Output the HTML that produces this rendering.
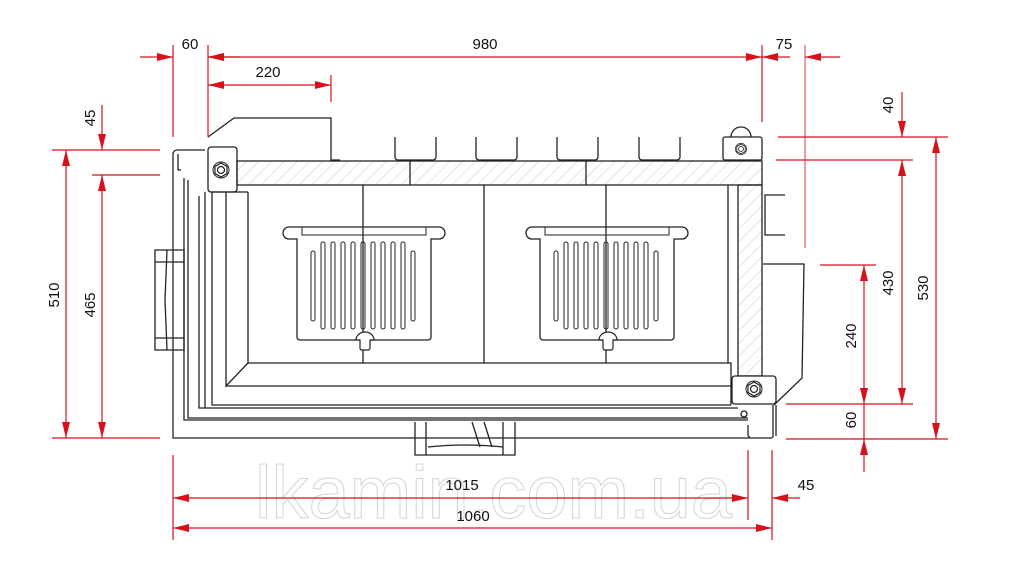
<!DOCTYPE html>
<html><head><meta charset="utf-8"><style>
html,body{margin:0;padding:0;background:#fff;}
svg{display:block;}
text{font-family:"Liberation Sans",Arial,sans-serif;}
</style></head><body>
<svg width="1024" height="570" viewBox="0 0 1024 570" xmlns="http://www.w3.org/2000/svg">
<defs>
<pattern id="h" width="9" height="9" patternUnits="userSpaceOnUse" patternTransform="rotate(45)">
<line x1="0" y1="0" x2="0" y2="9" stroke="#c8c8c8" stroke-width="1"/>
</pattern>
<marker id="a" viewBox="0 0 16 8" refX="16" refY="4" markerWidth="16" markerHeight="8" markerUnits="userSpaceOnUse" orient="auto">
<path d="M0,0 L16,4 L0,8 Z" fill="#d8101c"/>
</marker>
<g id="grate">
<path d="M-75,0 h150 a6,6 0 0 1 0,12 h-8 v98 a3,3 0 0 1 -3,3 h-128 a3,3 0 0 1 -3,-3 v-98 h-8 a6,6 0 0 1 0,-12 z" fill="none" stroke="#222" stroke-width="1.3"/>
<rect x="-62" y="0" width="124" height="8" fill="none" stroke="#222" stroke-width="1"/>
<g fill="none" stroke="#222" stroke-width="1">
<rect x="-53" y="24" width="4" height="70" rx="2"/>
<rect x="-43" y="15" width="4" height="87" rx="2"/>
<rect x="-33" y="15" width="4" height="87" rx="2"/>
<rect x="-23" y="15" width="4" height="87" rx="2"/>
<rect x="-13" y="15" width="4" height="87" rx="2"/>
<rect x="-3" y="15" width="4" height="87" rx="2"/>
<rect x="7" y="15" width="4" height="87" rx="2"/>
<rect x="17" y="15" width="4" height="87" rx="2"/>
<rect x="27" y="15" width="4" height="87" rx="2"/>
<rect x="37" y="15" width="4" height="87" rx="2"/>
<rect x="47" y="24" width="4" height="70" rx="2"/>
</g>
<path d="M-8,113 a9,8 0 0 1 18,0 h-4 v8 a2,2 0 0 1 -2,2 h-6 a2,2 0 0 1 -2,-2 v-8 z" fill="#fff" stroke="#222" stroke-width="1.2"/>
</g>
<g id="nut">
<circle r="8" fill="#fff" stroke="#222" stroke-width="1"/>
<polygon points="-6,-3.5 0,-7 6,-3.5 6,3.5 0,7 -6,3.5" fill="#fff" stroke="#222" stroke-width="1.2"/>
<circle r="3.5" fill="none" stroke="#222" stroke-width="1.2"/>
</g>
</defs>

<!-- watermark -->
<text x="255" y="518" font-size="74" fill="#fff" stroke="#d4d4d4" stroke-width="1">lkamin.com.ua</text>

<g fill="none" stroke="#222" stroke-width="1.3">
<path d="M205,150 H177 a4,4 0 0 0 -4,4 V438 H771 a2,2 0 0 0 2,-2 V405"/>
<path d="M181,170 h-3 v-16"/>
<path d="M184,178 V420 H748 M188,180 V418 H748"/>
<path d="M208,137 L234,118 H331 V160 H340"/>
<rect x="208" y="147" width="29" height="45" rx="3" fill="#fff"/>
<rect x="237" y="161" width="525" height="24" fill="url(#h)"/>
<line x1="410" y1="161" x2="410" y2="185"/>
<line x1="586" y1="161" x2="586" y2="185"/>
<rect x="738" y="185" width="24" height="191" fill="url(#h)"/>
<line x1="728" y1="185" x2="728" y2="363"/>
<path d="M395,137 v20 a3,3 0 0 0 3,3 h35 a3,3 0 0 0 3,-3 v-20"/>
<path d="M476,137 v20 a3,3 0 0 0 3,3 h35 a3,3 0 0 0 3,-3 v-20"/>
<path d="M557,137 v20 a3,3 0 0 0 3,3 h35 a3,3 0 0 0 3,-3 v-20"/>
<path d="M639,137 v20 a3,3 0 0 0 3,3 h35 a3,3 0 0 0 3,-3 v-20"/>
<path d="M731,137 a10,10 0 0 1 20,0"/>
<rect x="723" y="137" width="39" height="23" rx="2" fill="#fff"/>
<path d="M205,192 V408 M199,196 V408 H738"/>
<path d="M212,192 V405 H731 M226,192 V386 L248,363 M248,192 V363 H731 V405"/>
<path d="M226,386 H731"/>
<line x1="212" y1="192" x2="248" y2="192"/>
<line x1="363" y1="185" x2="363" y2="363"/>
<line x1="484" y1="185" x2="484" y2="363"/>
<line x1="606" y1="185" x2="606" y2="363"/>
<path d="M785,195 H765 V235 H785"/>
<path d="M763,264 H804 L802,378 L774,405"/>
<rect x="732" y="376" width="44" height="28" rx="3" fill="#fff"/>
<path d="M776,405 V436 M748,425 v10 a2,2 0 0 0 2,2"/>
<circle cx="744" cy="414" r="3"/>
<path d="M155,250 H184 V350 H155 Z M155,262 H184 M155,338 H184 M167,250 L165,300 L167,350"/>
<path d="M415,422 V455 H515 V422 M426,422 V455 M503,422 V455 M428,447 Q465,443 503,447 M472,422 l8,25 M484,422 l8,25"/>
</g>
<use href="#nut" x="221" y="170"/>
<use href="#nut" transform="translate(741,149) scale(0.7)"/>
<use href="#nut" x="754" y="389"/>
<use href="#grate" x="364" y="227"/>
<use href="#grate" x="607" y="227"/>

<g stroke="#d8101c" stroke-width="1.2" fill="none">
<line x1="173" y1="45" x2="173" y2="137"/>
<line x1="208" y1="45" x2="208" y2="137"/>
<line x1="762" y1="45" x2="762" y2="122"/>
<line x1="140" y1="57" x2="173" y2="57" marker-end="url(#a)"/>
<line x1="240" y1="57" x2="208" y2="57" marker-end="url(#a)"/>
<line x1="500" y1="57" x2="208" y2="57" marker-end="url(#a)"/>
<line x1="500" y1="57" x2="762" y2="57" marker-end="url(#a)"/>
<line x1="840" y1="57" x2="805" y2="57" marker-end="url(#a)"/>
<line x1="790" y1="57" x2="762" y2="57" marker-end="url(#a)"/>
<line x1="270" y1="85" x2="208" y2="85" marker-end="url(#a)"/>
<line x1="270" y1="85" x2="331" y2="85" marker-end="url(#a)"/>
<line x1="331" y1="75" x2="331" y2="102"/>
<line x1="52" y1="150" x2="160" y2="150"/>
<line x1="92" y1="175" x2="160" y2="175"/>
<line x1="52" y1="438" x2="160" y2="438"/>
<line x1="66" y1="295" x2="66" y2="150" marker-end="url(#a)"/>
<line x1="66" y1="295" x2="66" y2="438" marker-end="url(#a)"/>
<line x1="102" y1="305" x2="102" y2="175" marker-end="url(#a)"/>
<line x1="102" y1="305" x2="102" y2="438" marker-end="url(#a)"/>
<line x1="102" y1="105" x2="102" y2="150" marker-end="url(#a)"/>
<line x1="805" y1="45" x2="805" y2="248" stroke-opacity="0.55" stroke-width="1.5"/>
<line x1="778" y1="137" x2="948" y2="137"/>
<line x1="776" y1="160" x2="913" y2="160"/>
<line x1="820" y1="265" x2="876" y2="265"/>
<line x1="786" y1="404" x2="913" y2="404"/>
<line x1="786" y1="439" x2="948" y2="439"/>
<line x1="902" y1="92" x2="902" y2="137" marker-end="url(#a)"/>
<line x1="902" y1="280" x2="902" y2="160" marker-end="url(#a)"/>
<line x1="902" y1="280" x2="902" y2="404" marker-end="url(#a)"/>
<line x1="936" y1="290" x2="936" y2="137" marker-end="url(#a)"/>
<line x1="936" y1="290" x2="936" y2="439" marker-end="url(#a)"/>
<line x1="864" y1="335" x2="864" y2="265" marker-end="url(#a)"/>
<line x1="864" y1="335" x2="864" y2="404" marker-end="url(#a)"/>
<line x1="864" y1="404" x2="864" y2="439"/>
<line x1="864" y1="472" x2="864" y2="439" marker-end="url(#a)"/>
<line x1="173" y1="455" x2="173" y2="540"/>
<line x1="748" y1="450" x2="748" y2="520"/>
<line x1="772" y1="450" x2="772" y2="540"/>
<line x1="460" y1="498" x2="173" y2="498" marker-end="url(#a)"/>
<line x1="460" y1="498" x2="748" y2="498" marker-end="url(#a)"/>
<line x1="800" y1="498" x2="772" y2="498" marker-end="url(#a)"/>
<line x1="470" y1="528" x2="173" y2="528" marker-end="url(#a)"/>
<line x1="470" y1="528" x2="772" y2="528" marker-end="url(#a)"/>
</g>

<g font-size="15" fill="#111">
<text x="190" y="49" text-anchor="middle">60</text>
<text x="485" y="49" text-anchor="middle">980</text>
<text x="784" y="49" text-anchor="middle">75</text>
<text x="268" y="77" text-anchor="middle">220</text>
<text x="462" y="490" text-anchor="middle">1015</text>
<text x="806" y="490" text-anchor="middle">45</text>
<text x="473" y="521" text-anchor="middle">1060</text>
<text transform="translate(95,118) rotate(-90)" text-anchor="middle">45</text>
<text transform="translate(59,295) rotate(-90)" text-anchor="middle">510</text>
<text transform="translate(95,305) rotate(-90)" text-anchor="middle">465</text>
<text transform="translate(893,105) rotate(-90)" text-anchor="middle">40</text>
<text transform="translate(893,283) rotate(-90)" text-anchor="middle">430</text>
<text transform="translate(928,288) rotate(-90)" text-anchor="middle">530</text>
<text transform="translate(856,336) rotate(-90)" text-anchor="middle">240</text>
<text transform="translate(856,420) rotate(-90)" text-anchor="middle">60</text>
</g>
</svg>
</body></html>
